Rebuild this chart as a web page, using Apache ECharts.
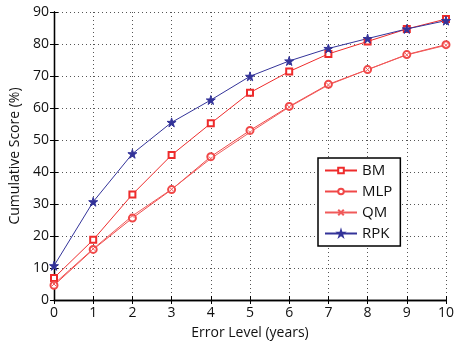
<!DOCTYPE html>
<html><head><meta charset="utf-8">
<script src="https://cdn.jsdelivr.net/npm/echarts@6/dist/echarts.min.js"></script>
<style>html,body{margin:0;padding:0;background:#fff}#c{width:457px;height:345px}</style>
</head><body><div id="c"></div>
<script>
const categories = [0,1,2,3,4,5,6,7,8,9,10];
const BM  = [6.9, 18.8, 33.0, 45.3, 55.2, 64.8, 71.4, 76.9, 80.8, 84.7, 87.8];
const MLP = [4.6, 15.8, 25.6, 34.5, 44.8, 53.0, 60.5, 67.4, 72.0, 76.7, 79.8];
const QM  = [5.0, 16.0, 26.3, 34.6, 44.2, 52.4, 60.3, 67.2, 72.0, 76.6, 79.6];
const RPK = [10.7, 30.7, 45.7, 55.5, 62.5, 69.9, 74.7, 78.6, 81.7, 84.7, 87.3];
const yTicks = [0,10,20,30,40,50,60,70,80,90];

const font = 'Open Sans';
const xPath = 'path://M0,0L10,10M10,0L0,10';
const starPath = 'path://M50,0L61,35L98,35L68,57L79,91L50,70L21,91L32,57L2,35L39,35Z';
function mk(name, data, color, symbol, size, extra) {
  return Object.assign({
    name, type: 'line', data: categories.map((c,i)=>[c,data[i]]),
    symbol, symbolSize: size, showAllSymbol: true,
    lineStyle: {color, width: 1},
    itemStyle: {color, borderColor: color, borderWidth: 1},
    emphasis: {disabled: true}
  }, extra || {});
}
const chart = echarts.init(document.getElementById('c'), null, {renderer: 'canvas'});
chart.setOption({
  animation: false,
  grid: {left: 50, right: 7, top: 12, bottom: 44, containLabel: false},
  xAxis: [{
    type: 'value', min: 0, max: 10, interval: 1,
    axisLine: {lineStyle: {color: '#000', width: 1.3}},
    axisTick: {inside: true, length: 4, lineStyle: {color: '#000'}},
    axisLabel: {color: '#111', fontFamily: font, fontSize: 14, margin: 6},
    splitLine: {show: true, lineStyle: {color: '#555', type: [1,3], width: 1}},
    name: 'Error Level (years)', nameLocation: 'middle', nameGap: 26,
    nameTextStyle: {color: '#111', fontFamily: font, fontSize: 14}
  },{
    type: 'value', min: 0, max: 10, interval: 1, position: 'top',
    axisLine: {show: true, lineStyle: {color: '#000', width: 1.3}},
    axisTick: {show: true, inside: true, length: 4, lineStyle: {color: '#000'}},
    axisLabel: {show: false}, splitLine: {show: false}
  }],
  yAxis: [{
    type: 'value', min: 0, max: 90, interval: 10,
    axisLine: {show: true, lineStyle: {color: '#000', width: 1.3}},
    axisTick: {show: true, inside: true, length: 4, lineStyle: {color: '#000'}},
    axisLabel: {color: '#111', fontFamily: font, fontSize: 14, margin: 5},
    splitLine: {show: true, lineStyle: {color: '#555', type: [1,3], width: 1}},
    name: 'Cumulative Score (%)', nameLocation: 'middle', nameGap: 32,
    nameTextStyle: {color: '#111', fontFamily: font, fontSize: 14}
  },{
    type: 'value', min: 0, max: 90, interval: 10, position: 'right',
    axisLine: {show: true, lineStyle: {color: '#000', width: 1.3}},
    axisTick: {show: true, inside: true, length: 4, lineStyle: {color: '#000'}},
    axisLabel: {show: false}, splitLine: {show: false}
  }],
  legend: {
    left: 318, top: 158, orient: 'vertical',
    backgroundColor: '#fff', borderColor: '#000', borderWidth: 1.5,
    padding: [5, 8, 5, 6], itemGap: 6, itemWidth: 32, itemHeight: 7,
    textStyle: {color: '#111', fontFamily: font, fontSize: 15},
    data: ['BM','MLP','QM','RPK']
  },
  series: [
    mk('BM', BM, '#ee2b2b', 'emptyRect', 6),
    mk('MLP', MLP, '#f04848', 'emptyCircle', 7),
    mk('QM', QM, '#f05a5a', xPath, 4),
    mk('RPK', RPK, '#333399', starPath, 9)
  ]
});
</script></body></html>
